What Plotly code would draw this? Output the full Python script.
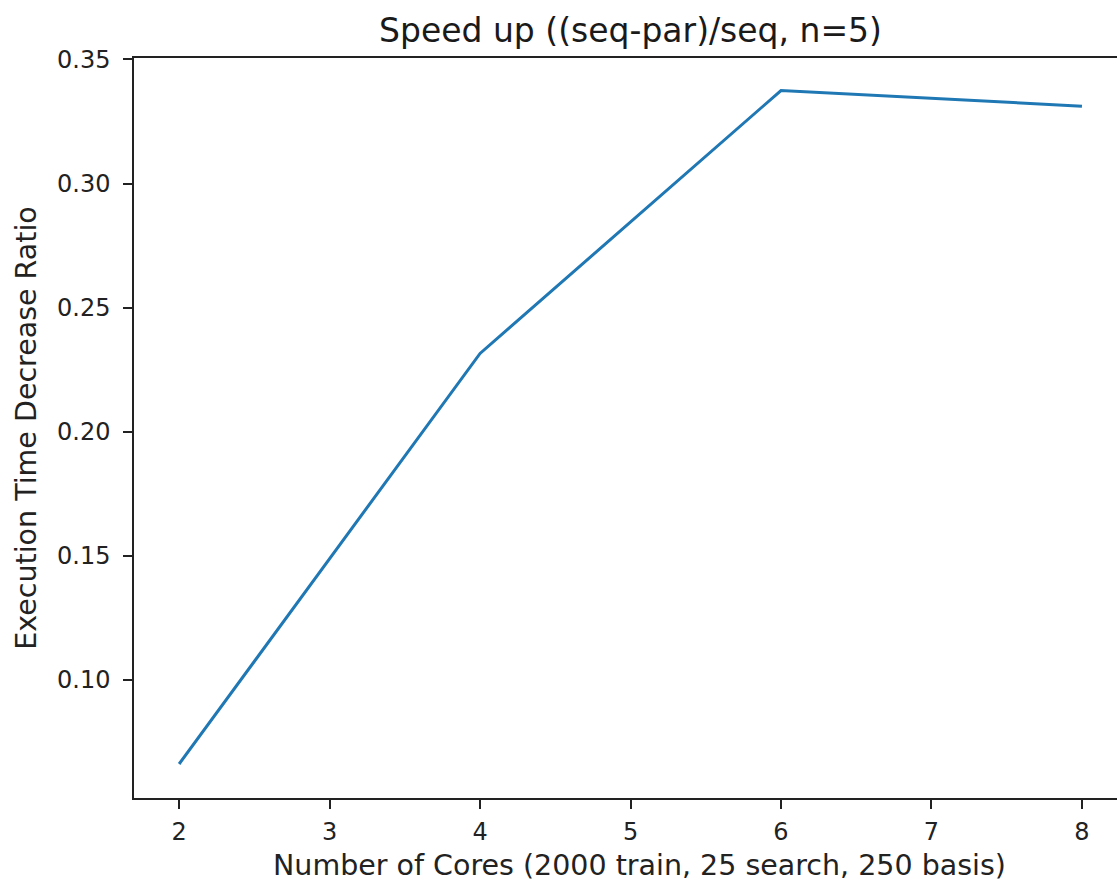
import plotly.graph_objects as go

cores = [2, 4, 6, 8]
ratio = [0.0662, 0.2316, 0.3375, 0.3312]
x_ticks = [2, 3, 4, 5, 6, 7, 8]
y_ticks = [0.10, 0.15, 0.20, 0.25, 0.30, 0.35]
y_tick_labels = ["0.10", "0.15", "0.20", "0.25", "0.30", "0.35"]

fig = go.Figure(go.Scatter(x=cores, y=ratio, mode="lines",
                           line=dict(color="#1f77b4", width=3)))

font = "DejaVu Sans"
plot_h = 884 - 58 - 86
plot_w = 1117 - 134
fig.update_layout(
    width=1117, height=884,
    margin=dict(l=134, r=0, t=58, b=86),
    paper_bgcolor="white", plot_bgcolor="white",
    showlegend=False,
    font=dict(family=font, size=24, color="#222"),
    title=dict(text="Speed up ((seq-par)/seq, n=5)", x=(134 + 1127) / 2 / 1117, xanchor="center",
               y=1 - 30 / 884, yanchor="middle", font=dict(size=33, family=font, color="#1a1a1a")),
    xaxis=dict(range=[1.7, 8.233], tickvals=x_ticks, ticks="outside", ticklen=9, tickwidth=1.5,
               tickcolor="#222", showline=True, linecolor="#222", linewidth=1.5, mirror=True,
               showgrid=False, zeroline=False, ticklabelstandoff=2),
    yaxis=dict(range=[0.0525, 0.3506], tickvals=y_ticks, ticktext=y_tick_labels, ticks="outside",
               ticklen=9, tickwidth=1.5, tickcolor="#222", showline=True, linecolor="#222",
               linewidth=1.5, showgrid=False, zeroline=False, ticklabelstandoff=8,
               title=dict(text="Execution Time Decrease Ratio", standoff=12, font=dict(size=28.5))),
    annotations=[dict(text="Number of Cores (2000 train, 25 search, 250 basis)",
                      xref="paper", yref="paper", x=(639 - 134) / plot_w, y=-(865 - 798) / plot_h,
                      xanchor="center", yanchor="middle", showarrow=False,
                      font=dict(size=28.5, family=font, color="#222"))],
)

fig.write_html("out.html", config={"displayModeBar": False},
               post_script="document.body.style.margin='0';document.body.style.overflow='hidden';")
